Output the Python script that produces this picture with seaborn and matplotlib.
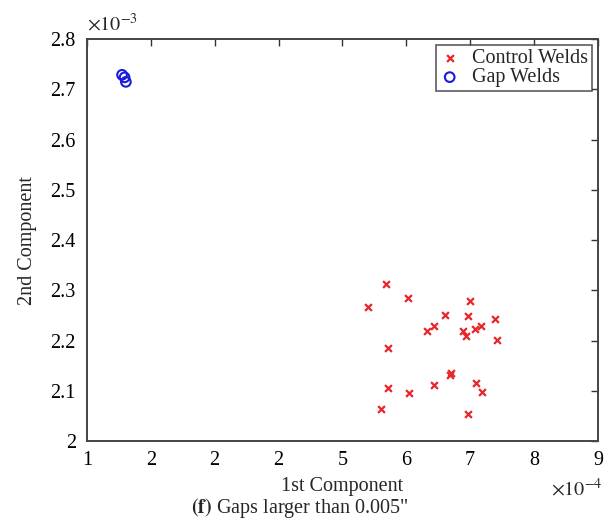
import matplotlib
matplotlib.use('Agg')
import matplotlib.pyplot as plt
import seaborn as sns

# values in units of 1e-4 (x) and 1e-3 (y)
control_x = [5.40, 5.68, 6.03, 7.00, 6.60, 6.96, 7.39, 6.33, 6.44, 6.89, 6.94, 7.07,
             7.17, 7.42, 5.72, 6.70, 6.69, 5.72, 6.44, 7.09, 6.05, 7.19, 5.60, 6.96]
control_y = [2.267, 2.312, 2.284, 2.279, 2.251, 2.249, 2.244, 2.220, 2.230, 2.219, 2.209, 2.223,
             2.230, 2.202, 2.186, 2.135, 2.132, 2.106, 2.112, 2.115, 2.096, 2.098, 2.065, 2.055]
gap_x = [1.55, 1.59, 1.61]
gap_y = [2.729, 2.724, 2.715]

xticks = [1, 2, 3, 4, 5, 6, 7, 8, 9]
xticklabels = ['1', '2', '2', '2', '5', '6', '7', '8', '9']
yticks = [2, 2.1, 2.2, 2.3, 2.4, 2.5, 2.6, 2.7, 2.8]
yticklabels = ['2', '2.1', '2.2', '2.3', '2.4', '2.5', '2.6', '2.7', '2.8']

sns.set_style('white')
plt.rcParams['font.family'] = ['Liberation Serif', 'DejaVu Serif']
plt.rcParams['mathtext.fontset'] = 'stix'
fs = 14.5

fig = plt.figure(figsize=(6.12, 5.29), dpi=100)
ax = fig.add_axes([0.142, 0.166, 0.835, 0.760])

sns.scatterplot(x=control_x, y=control_y, marker='x', color='#e8242a', s=24,
                linewidth=1.6, label='Control Welds', ax=ax)
sns.scatterplot(x=gap_x, y=gap_y, marker='o', facecolors='none', edgecolors='#1a1adf',
                s=48, linewidth=1.5, label='Gap Welds', ax=ax)

ax.set_xlim(1, 9)
ax.set_ylim(2, 2.8)
ax.set_xticks(xticks)
ax.set_xticklabels(xticklabels)
ax.set_yticks(yticks)
ax.set_yticklabels(yticklabels)
ax.tick_params(direction='in', length=5, width=1, top=True, right=True,
               labelsize=fs, colors='#333333', labelcolor='black')
ax.tick_params(axis='x', pad=7)
ax.tick_params(axis='y', pad=8)
for sp in ax.spines.values():
    sp.set_visible(True)
    sp.set_color('#444444')
    sp.set_linewidth(1.4)

ax.set_xlabel('1st Component', fontsize=fs, labelpad=5)
ax.set_ylabel('2nd Component', fontsize=fs, labelpad=10)

ax.text(0.0, 1.008, r'$\times 10^{-3}$', transform=ax.transAxes, fontsize=fs,
        ha='left', va='bottom')
ax.text(1.01, -0.092, r'$\times 10^{-4}$', transform=ax.transAxes, fontsize=fs,
        ha='right', va='top')

leg = ax.legend(loc='upper right', fontsize=14.5, frameon=True, fancybox=False,
                borderaxespad=0.3, handletextpad=0.6, handlelength=1.0,
                borderpad=0.2, labelspacing=0.0)
leg.get_frame().set_edgecolor('#333333')
leg.get_frame().set_linewidth(1.2)

fig.text(0.49, 0.04, r'$\mathbf{(f)}$ Gaps larger than 0.005"', fontsize=fs,
         ha='center', va='center')

fig.savefig('out.png', dpi=100)
